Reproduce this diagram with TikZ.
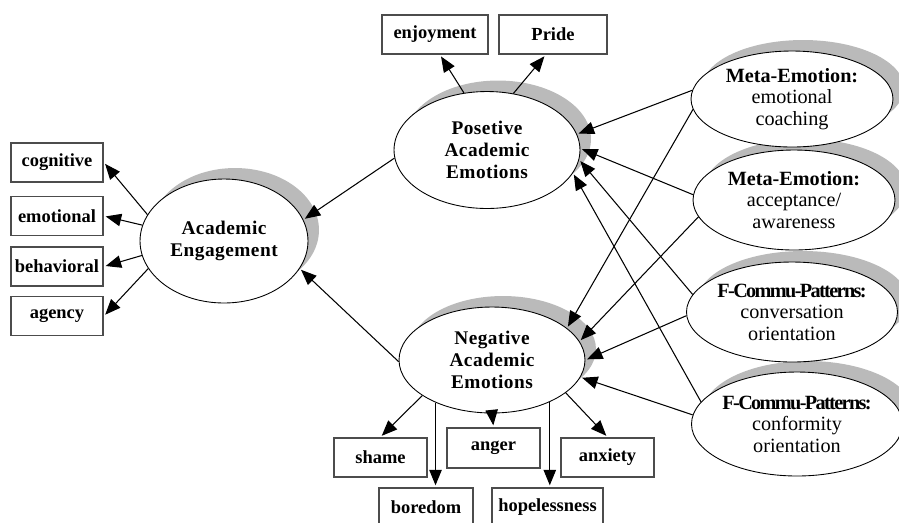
\documentclass[tikz,border=0pt]{standalone}
\usepackage{fontspec}
\setmainfont{Liberation Serif}
\usetikzlibrary{shapes,shadows,arrows.meta}

\begin{document}
\begin{tikzpicture}[x=0.02cm,y=-0.02cm,line width=0.6pt,shorten >=1pt,>={Triangle[length=3.1mm,width=2.5mm]},auto]
\useasboundingbox (0,0) rectangle (899,522);
\tikzstyle{latent}=[ellipse,draw=black,line width=0.5pt,fill=white,inner sep=0pt,align=center,drop shadow={shadow xshift=0.22cm,shadow yshift=0.22cm,fill=black!27,opacity=1}]
\tikzstyle{mid}=[latent,font=\fontsize{11}{12.4}\selectfont\bfseries\addfontfeature{LetterSpace=2.5}]
\tikzstyle{side}=[latent,font=\fontsize{11.5}{12.2}\selectfont]
\tikzstyle{item}=[rectangle,draw=black!70,line width=1.1pt,fill=white,inner sep=0pt,minimum height=0.78cm,font=\fontsize{10.5}{12}\selectfont\bfseries]

\node[mid,minimum width=3.36cm,minimum height=2.48cm](AE) at (224,241) {Academic\\Engagement};
\node[mid,minimum width=3.72cm,minimum height=2.34cm](PAE) at (487,150) {Posetive\\Academic\\Emotions};
\node[mid,minimum width=3.72cm,minimum height=2.12cm](NAE) at (492,360) {Negative\\Academic\\Emotions};
% drawn bottom up, so each shadow stays behind the ellipse above
\node[side,minimum width=4cm,minimum height=2.08cm](CF) at (797,424) {{\bfseries\addfontfeature{LetterSpace=-8}F-Commu-Patterns:}\\conformity\\orientation};
\node[side,minimum width=4.08cm,minimum height=2cm](CO) at (792,312) {{\bfseries\addfontfeature{LetterSpace=-8}F-Commu-Patterns:}\\conversation\\orientation};
\node[side,minimum width=4.04cm,minimum height=2cm](AA) at (794,200) {{\bfseries Meta-Emotion:}\\acceptance/\\awareness};
\node[side,minimum width=4.04cm,minimum height=1.92cm](EC) at (792,99) {{\bfseries Meta-Emotion:}\\emotional\\coaching};

\node[item,minimum width=1.84cm](cog) at (57,162.5) {cognitive};
\node[item,minimum width=1.84cm](emo) at (57,216) {emotional};
\node[item,minimum width=1.84cm](beh) at (57,266.5) {behavioral};
\node[item,minimum width=1.84cm](agy) at (57,316) {agency};
\node[item,minimum width=2.12cm](enj) at (435,34.5) {enjoyment};
\node[item,minimum width=2.16cm](pride) at (553,34.5) {Pride};
\node[item,minimum width=1.86cm](shame) at (380.5,457.5) {shame};
\node[item,minimum width=1.86cm,minimum height=0.8cm](anger) at (493.5,448) {anger};
\node[item,minimum width=1.86cm](anx) at (607.5,457.5) {anxiety};
\node[item,minimum width=1.88cm](bore) at (426,507.5) {boredom};
\node[item,minimum width=2.22cm](hope) at (547.5,507.5) {hopelessness};

\path (AE.161) edge[->] (cog.east)
      (AE.169) edge[->] (emo.east)
      (AE.190) edge[->] (beh.east)
      (AE.200.6) edge[->] (agy.east);
\path (PAE.112.5) edge[->] (enj.284)
      (PAE.65.9) edge[->] (pride.250)
      (PAE.185.5) edge[->] (AE.15.2)
      (NAE.181) edge[->] (AE.340);
\path (NAE.207.9) edge[->] (shame.north)
      (NAE.217.5) edge[->] (NAE.217.5 |- bore.north)
      (NAE.south) edge[->] (anger.north)
      (NAE.324) edge[->] (NAE.324 |- hope.north)
      (NAE.336) edge[->] (anx.north);
\path (EC.175) edge[->] (PAE.10)
      (EC.186.6) edge[->] (NAE.23.4)
      (AA.177) edge[->] (PAE.1)
      (AA.190) edge[->] (NAE.12.4)
      (CO.170) edge[->] (PAE.354)
      (CO.182.8) edge[->] (NAE.0)
      (CF.167.4) edge[->] (PAE.345.8)
      (CF.175) edge[->] (NAE.349.9);

\end{tikzpicture}
\end{document}
